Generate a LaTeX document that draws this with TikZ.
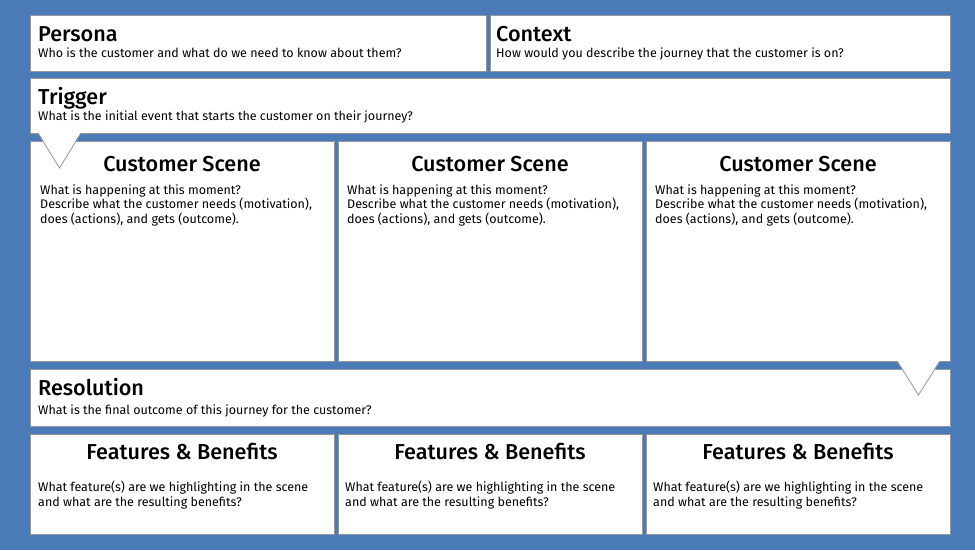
\documentclass[tikz,border=0pt]{standalone}
\usepackage{fontspec}
\setmainfont{Fira Sans}
\newfontfamily\titlefont{Fira Sans Medium}
\definecolor{bgblue}{RGB}{74,123,182}
\definecolor{edgegray}{RGB}{150,150,155}
\begin{document}
\begin{tikzpicture}[x=1pt,y=-1pt,
  panel/.style={draw=edgegray, line width=0.8pt, fill=white, rectangle, inner sep=0pt, outer sep=0pt, anchor=north west},
  ttl/.style={inner sep=0pt, font=\titlefont\fontsize{21.6}{24}\selectfont},
  sub/.style={inner sep=0pt, anchor=base west, font=\fontsize{12.5}{14.5}\selectfont},
  body/.style={inner sep=0pt, anchor=base west, align=left, font=\fontsize{12.5}{14.5}\selectfont},
  pointer/.style={fill=white, draw=none},
  pointeredge/.style={draw=edgegray, line width=0.8pt}
]
\path[fill=bgblue, use as bounding box] (0,0) rectangle (975,550);

% panels
\node[panel, minimum width=456pt, minimum height=56pt] (persona) at (30,15) {};
\node[panel, minimum width=460pt, minimum height=56pt] (context) at (490,15) {};
\node[panel, minimum width=920pt, minimum height=55pt] (trigger) at (30,78) {};
\node[panel, minimum width=304pt, minimum height=220pt] (scene1) at (30,141) {};
\node[panel, minimum width=304pt, minimum height=220pt] (scene2) at (338,141) {};
\node[panel, minimum width=304pt, minimum height=220pt] (scene3) at (646,141) {};
\node[panel, minimum width=920pt, minimum height=57pt] (resolution) at (30,369) {};
\node[panel, minimum width=304pt, minimum height=100pt] (feat1) at (30,434) {};
\node[panel, minimum width=304pt, minimum height=100pt] (feat2) at (338,434) {};
\node[panel, minimum width=304pt, minimum height=100pt] (feat3) at (646,434) {};

% pointers
\coordinate (tA) at (38,133);
\coordinate (tB) at (81,133);
\coordinate (tC) at (59.5,168);
\fill[pointer] (38,132) -- (81,132) -- (tC) -- cycle;
\draw[pointeredge] (tA) -- (tC) -- (tB);

\coordinate (rA) at (897,361);
\coordinate (rB) at (940,361);
\coordinate (rC) at (918.5,395);
\fill[pointer] (897,360) -- (940,360) -- (rC) -- cycle;
\draw[pointeredge] (rA) -- (rC) -- (rB);

% texts
\node[ttl, anchor=base west] (personaT) at (38,41) {Persona};
\node[sub] (personaS) at (38,57.5) {Who is the customer and what do we need to know about them?};
\node[ttl, anchor=base west] (contextT) at (496,41) {Context};
\node[sub] (contextS) at (496,57.5) {How would you describe the journey that the customer is on?};
\node[ttl, anchor=base west] (triggerT) at (38,104) {Trigger};
\node[sub] (triggerS) at (38,120.5) {What is the initial event that starts the customer on their journey?};

\foreach \i/\cx/\lx in {1/182/40,2/490/347,3/798/655}{
  \node[ttl, anchor=base] (sceneT\i) at (\cx,171) {Customer Scene};
  \node[body] (sceneB\i) at (\lx,223) {What is happening at this moment?\\Describe what the customer needs (motivation),\\does (actions), and gets (outcome).};
}

\node[ttl, anchor=base west] (resolutionT) at (38,395) {Resolution};
\node[sub] (resolutionS) at (38,414) {What is the final outcome of this journey for the customer?};

\foreach \i/\cx/\lx in {1/182/38,2/490/345,3/798/653}{
  \node[ttl, anchor=base] (featT\i) at (\cx,459) {Features \& Benefits};
  \node[body] (featB\i) at (\lx,506) {What feature(s) are we highlighting in the scene\\and what are the resulting benefits?};
}
\end{tikzpicture}
\end{document}
